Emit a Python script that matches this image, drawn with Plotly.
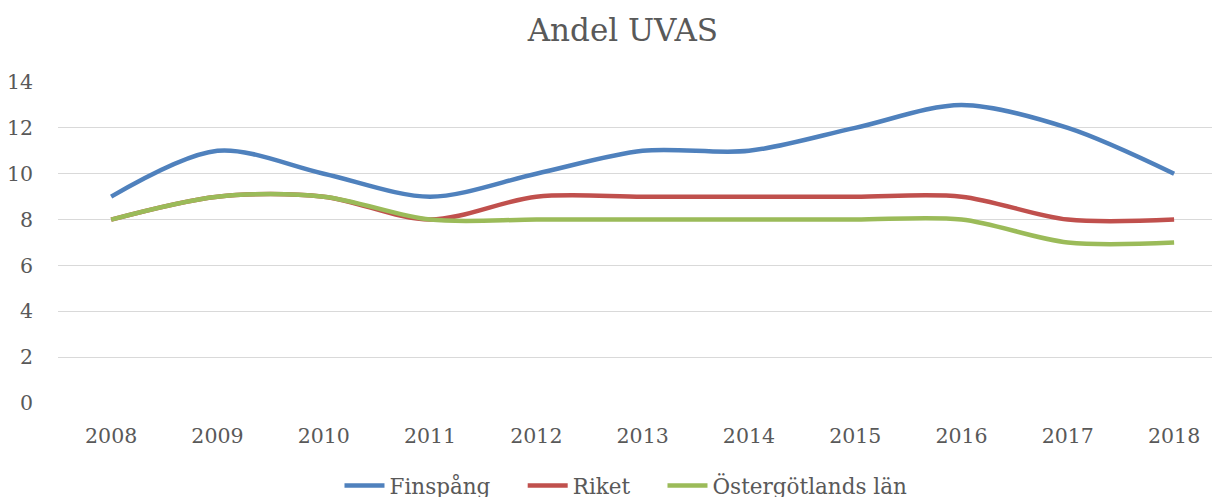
import plotly.graph_objects as go

years = ["2008", "2009", "2010", "2011", "2012", "2013", "2014", "2015", "2016", "2017", "2018"]
finspang = [9, 11, 10, 9, 10, 11, 11, 12, 13, 12, 10]
riket = [8, 9, 9, 8, 9, 9, 9, 9, 9, 8, 8]
ostergotland = [8, 9, 9, 8, 8, 8, 8, 8, 8, 7, 7]
y_ticks = [0, 2, 4, 6, 8, 10, 12, 14]

FONT = "DejaVu Serif"
TXT = "#595959"

fig = go.Figure()
for name, vals, col in [
    ("Finspång", finspang, "#4F81BD"),
    ("Riket", riket, "#C0504D"),
    ("Östergötlands län", ostergotland, "#9BBB59"),
]:
    fig.add_trace(go.Scatter(
        x=years, y=vals, name=name + "    ", mode="lines",
        line=dict(color=col, width=4.5, shape="spline", smoothing=0.9),
    ))

fig.update_layout(
    width=1220, height=497,
    margin=dict(l=50, r=0, t=74, b=102, autoexpand=False),
    paper_bgcolor="white", plot_bgcolor="white",
    font=dict(family=FONT, color=TXT, size=20),
    title=dict(text="Andel UVAS", x=0.504, xanchor="center", y=0.956, yanchor="middle",
               font=dict(family=FONT, size=31, color=TXT)),
    xaxis=dict(type="category", range=[-0.5, 10.507], showgrid=False, showline=False,
               ticks="", ticklabelstandoff=18, tickfont=dict(size=20.5, color=TXT)),
    yaxis=dict(range=[0, 14], tickvals=y_ticks, showgrid=True, gridcolor="#D9D9D9",
               gridwidth=1.3, zeroline=False, showline=False, ticks="",
               ticklabelstandoff=24, tickfont=dict(size=20.5, color=TXT)),
    legend=dict(orientation="h", x=0.497, xanchor="center", y=-0.193, yanchor="top",
                font=dict(size=21.5, color=TXT), itemwidth=40, tracegroupgap=0),
    showlegend=True,
)

fig.write_html("out.html")
